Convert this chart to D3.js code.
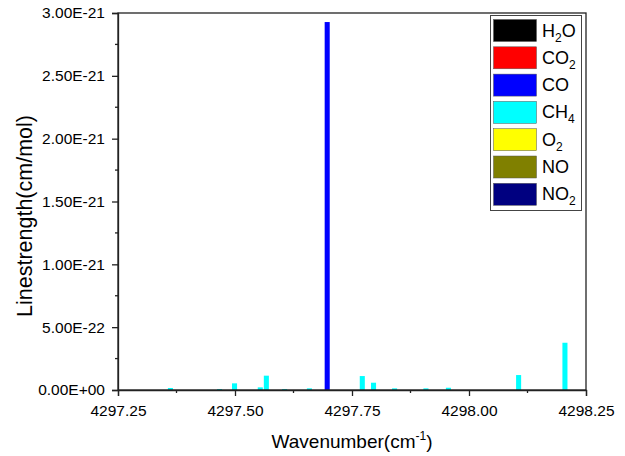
<!DOCTYPE html>
<html>
<head>
<meta charset="utf-8">
<script src="https://cdn.jsdelivr.net/npm/d3@7"></script>
<style>
  body { margin: 0; background: #fff; }
  text { font-family: "Liberation Sans", Arial, sans-serif; fill: #000; }
</style>
</head>
<body>
<script>
// species shown in the legend, in order
const species = ["H2O", "CO2", "CO", "CH4", "O2", "NO", "NO2"];
const speciesColors = ["#000000", "#ff0000", "#0000ff", "#00ffff", "#ffff00", "#808000", "#000080"];

// line positions (cm-1) and strengths (cm/mol)
const coWave = [4297.697];
const coStrength = [2.928e-21];

const ch4Wave = [4297.362, 4297.467, 4297.499, 4297.554, 4297.567, 4297.606, 4297.659,
                 4297.772, 4297.796, 4297.841, 4297.908, 4297.956, 4298.106, 4298.205];
const ch4Strength = [1.6e-23, 8e-24, 5.3e-23, 2.1e-23, 1.14e-22, 8e-24, 1.3e-23,
                     1.11e-22, 5.8e-23, 1.3e-23, 1.3e-23, 1.8e-23, 1.19e-22, 3.76e-22];

const xTicks = [4297.25, 4297.5, 4297.75, 4298.0, 4298.25];
const yTicks = [0, 5e-22, 1e-21, 1.5e-21, 2e-21, 2.5e-21, 3e-21];

const W = 625, H = 456;
const margin = { left: 118, right: 39, top: 13, bottom: 66 };
const barWidth = 0.0108; // in cm-1

const svg = d3.select("body").append("svg").attr("width", W).attr("height", H);

const x = d3.scaleLinear().domain([4297.25, 4298.25]).range([margin.left, W - margin.right]);
const y = d3.scaleLinear().domain([0, 3e-21]).range([H - margin.bottom, margin.top]);

function sci(v) {
  if (v === 0) return "0.00E+00";
  let s = v.toExponential(2).toUpperCase();
  return s.replace(/E([+-])(\d)$/, "E$10$2");
}

// bars
const bars = [];
ch4Wave.forEach((w, i) => bars.push({ w: w, v: ch4Strength[i], c: speciesColors[3] }));
coWave.forEach((w, i) => bars.push({ w: w, v: coStrength[i], c: speciesColors[2] }));

svg.append("g").selectAll("rect").data(bars).join("rect")
  .attr("x", d => x(d.w - barWidth / 2))
  .attr("width", d => x(d.w + barWidth / 2) - x(d.w - barWidth / 2))
  .attr("y", d => y(d.v))
  .attr("height", d => y(0) - y(d.v))
  .attr("fill", d => d.c);

// frame
svg.append("rect")
  .attr("x", x.range()[0]).attr("y", y.range()[1])
  .attr("width", x.range()[1] - x.range()[0])
  .attr("height", y.range()[0] - y.range()[1])
  .attr("fill", "none").attr("stroke", "#222").attr("stroke-width", 1.3);

// x axis
const xAxis = svg.append("g").attr("transform", `translate(0,${y(0)})`)
  .call(d3.axisBottom(x).tickValues(xTicks).tickFormat(d3.format(".2f")).tickSize(6).tickPadding(9));
xAxis.selectAll(".tick text").attr("font-size", 15.5).attr("font-family", null);
xAxis.select(".domain").attr("stroke", "#222").attr("stroke-width", 1.3);
xAxis.selectAll(".tick line").attr("stroke", "#222").attr("stroke-width", 1.3);
svg.append("g").selectAll("line").data(xTicks.slice(0, -1).map(t => t + 0.125)).join("line")
  .attr("x1", d => x(d)).attr("x2", d => x(d))
  .attr("y1", y(0)).attr("y2", y(0) + 3)
  .attr("stroke", "#222").attr("stroke-width", 1.3);

// y axis
const yAxis = svg.append("g").attr("transform", `translate(${x.range()[0]},0)`)
  .call(d3.axisLeft(y).tickValues(yTicks).tickFormat(sci).tickSize(6).tickPadding(7));
yAxis.selectAll(".tick text").attr("font-size", 15.5).attr("font-family", null);
yAxis.select(".domain").attr("stroke", "#222").attr("stroke-width", 1.3);
yAxis.selectAll(".tick line").attr("stroke", "#222").attr("stroke-width", 1.3);
svg.append("g").selectAll("line").data(yTicks.slice(0, -1).map(t => t + 2.5e-22)).join("line")
  .attr("x1", x.range()[0] - 3).attr("x2", x.range()[0])
  .attr("y1", d => y(d)).attr("y2", d => y(d))
  .attr("stroke", "#222").attr("stroke-width", 1.3);

// axis titles
const xt = svg.append("text").attr("x", (x.range()[0] + x.range()[1]) / 2).attr("y", 448)
  .attr("text-anchor", "middle").attr("font-size", 19);
xt.append("tspan").text("Wavenumber(cm");
xt.append("tspan").attr("font-size", 12).attr("dy", -8).text("-1");
xt.append("tspan").attr("dy", 8).text(")");

svg.append("text")
  .attr("transform", `translate(32,216) rotate(-90)`)
  .attr("text-anchor", "middle").attr("font-size", 21.5)
  .text("Linestrength(cm/mol)");

// legend
const lg = svg.append("g");
lg.append("rect").attr("x", 490.5).attr("y", 15.5).attr("width", 91).attr("height", 195)
  .attr("fill", "#fff").attr("stroke", "#444").attr("stroke-width", 1);
const rowH = 27.3;
species.forEach((s, i) => {
  const yy = 19.5 + i * rowH;
  lg.append("rect").attr("x", 493.5).attr("y", yy).attr("width", 43).attr("height", 22)
    .attr("fill", speciesColors[i]).attr("stroke", "#555").attr("stroke-width", 0.5);
  const t = lg.append("text").attr("x", 542).attr("y", yy + 17).attr("font-size", 18);
  // letters as normal text, digits as subscripts
  const parts = s.split(/(\d)/).filter(p => p !== "");
  let sub = false;
  parts.forEach(p => {
    if (/\d/.test(p)) {
      t.append("tspan").attr("font-size", 12).attr("dy", 5).text(p);
      sub = true;
    } else {
      t.append("tspan").attr("dy", sub ? -5 : 0).text(p);
      sub = false;
    }
  });
});
</script>
</body>
</html>
